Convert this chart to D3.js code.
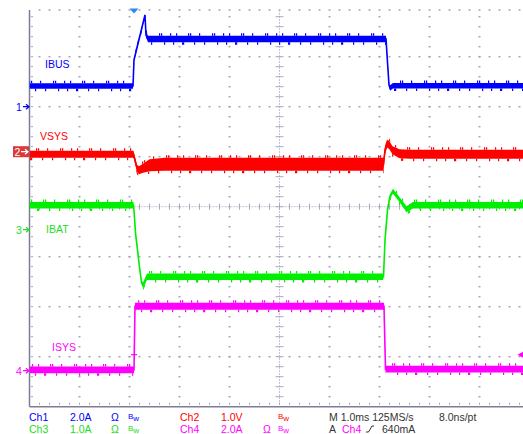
<!DOCTYPE html>
<html><head><meta charset="utf-8">
<script src="https://cdn.jsdelivr.net/npm/d3@7"></script>
<style>body{margin:0;background:#fff}svg{display:block}text{font-family:"Liberation Sans",Arial,sans-serif}</style>
</head><body><script>
// ---- data ----
const channelNames = ["Ch1","Ch2","Ch3","Ch4"];
const traceLabels = ["IBUS","VSYS","IBAT","ISYS"];
const voltsPerDiv = [2.0, 1.0, 1.0, 2.0];
const unitNames = ["A","V","A","A"];
const groundDiv = [2.0, 1.1, -0.46, -3.28];
const timePerDivMs = 1.0;
const triggerTimeMs = 2.09;
const triggerLevel = 0.64; // A on Ch4

const ibusTime = [0, 2.07, 2.09, 2.31, 2.33, 2.37, 7.13, 7.19, 7.21, 7.27, 10];
const ibusVal  = [0.83, 0.83, 1.87, 3.67, 2.87, 2.71, 2.71, 0.86, 0.75, 0.84, 0.84];
const ibusRip  = [0.22, 0.22, 0.10, 0.10, 0.20, 0.26, 0.26, 0.10, 0.22, 0.22, 0.22];

const vsysTime = [0, 2.08, 2.11, 2.15, 2.19, 2.27, 2.40, 2.70, 7.08, 7.11, 7.15, 7.19, 7.26, 7.40, 7.60, 10];
const vsysVal  = [-0.05, -0.05, -0.17, -0.33, -0.37, -0.33, -0.27, -0.25, -0.25, 0.03, 0.16, 0.14, 0.03, -0.04, -0.05, -0.05];
const vsysRip  = [0.14, 0.14, 0.14, 0.14, 0.16, 0.18, 0.24, 0.26, 0.26, 0.18, 0.16, 0.16, 0.16, 0.18, 0.18, 0.18];

const ibatTime = [0, 2.08, 2.09, 2.12, 2.16, 2.20, 2.24, 2.27, 2.35, 7.07, 7.08, 7.11, 7.16, 7.21, 7.27, 7.41, 7.54, 7.67, 10];
const ibatVal  = [0.49, 0.49, 0.39, -0.07, -0.41, -0.75, -1.05, -1.11, -0.94, -0.94, -0.94, -0.21, 0.39, 0.67, 0.77, 0.59, 0.41, 0.49, 0.49];
const ibatRip  = [0.13, 0.13, 0.05, 0.05, 0.05, 0.05, 0.08, 0.10, 0.13, 0.13, 0.05, 0.05, 0.05, 0.08, 0.10, 0.10, 0.12, 0.13, 0.13];

const isysTime = [0, 2.09, 2.11, 7.09, 7.12, 10];
const isysVal  = [0.03, 0.03, 2.58, 2.58, 0.06, 0.06];
const isysRip  = [0.27, 0.27, 0.28, 0.28, 0.27, 0.27];

const traceColors = ["#0000ff", "#ff0000", "#00ee00", "#ff00ff"];
const textColors  = ["#0000ff", "#ff0000", "#22dd22", "#ff00ff"];

// ---- setup ----
const W = 523, H = 434;
const svg = d3.select("body").append("svg").attr("width", W).attr("height", H);
const x = d3.scaleLinear().domain([0, 10 * timePerDivMs]).range([29.5, 529.5]);
const yDiv = d3.scaleLinear().domain([-4, 4]).range([406.7, 6.7]);
const TOP = 10, BOTTOM = yDiv(-4), LEFT = x(0), RIGHT = W;
const chY = (ch, v) => yDiv(groundDiv[ch] + v / voltsPerDiv[ch]);

const defs = svg.append("defs");
defs.append("clipPath").attr("id", "plotClip").append("rect")
  .attr("x", LEFT).attr("y", TOP).attr("width", RIGHT - LEFT).attr("height", BOTTOM - TOP);
const stripeOffsets = [[0, 2, 11, 17, 29, 31, 40], [5, 14, 23, 24, 35, 45]];
traceColors.forEach((c, i) => {
  ["a", "b"].forEach((k, j) => {
    const p = defs.append("pattern").attr("id", `sp${i}${k}`).attr("patternUnits", "userSpaceOnUse")
      .attr("width", 53).attr("height", 40).attr("x", i * 7);
    stripeOffsets[j].forEach(s => p.append("rect").attr("x", s).attr("y", 0).attr("width", 1.2).attr("height", 40).attr("fill", c));
  });
});

// ---- grid ----
const grid = svg.append("g");
const dotColor = "#a4a4bc";
const dots = [];
for (let i = 1; i <= 10; i++) {
  if (i === 5) continue;
  for (let yy = yDiv(4) + 10; yy < BOTTOM - 1; yy += 10) if (yy >= TOP) dots.push([x(i), yy]);
}
for (let j = -3; j <= 3; j++) {
  if (j === 0) continue;
  for (let xx = LEFT + 10; xx < RIGHT; xx += 10) dots.push([xx, yDiv(j)]);
}
for (let xx = LEFT + 10; xx < RIGHT; xx += 10) dots.push([xx, TOP]);
grid.selectAll("rect.d").data(dots).join("rect").attr("class", "d")
  .attr("x", d => d[0] - 1).attr("y", d => d[1] - 0.75).attr("width", 2).attr("height", 1.5).attr("fill", dotColor);

// center crosshair
const cy = yDiv(0), cx = x(5);
grid.append("line").attr("x1", LEFT).attr("x2", RIGHT).attr("y1", cy).attr("y2", cy)
  .attr("stroke", "#c4c4d4").attr("stroke-width", 1).attr("stroke-dasharray", "2 1");
grid.append("line").attr("x1", cx).attr("x2", cx).attr("y1", TOP).attr("y2", BOTTOM)
  .attr("stroke", "#c4c4d4").attr("stroke-width", 1).attr("stroke-dasharray", "2 1");
const hT = []; for (let xx = LEFT + 10; xx < RIGHT; xx += 10) hT.push(xx);
grid.selectAll("line.ht").data(hT).join("line").attr("class", "ht")
  .attr("x1", d => d).attr("x2", d => d).attr("y1", cy - 3).attr("y2", cy + 3)
  .attr("stroke", "#a8a8c0").attr("stroke-width", 1);
const vT = []; for (let yy = yDiv(4) + 10; yy < BOTTOM; yy += 10) if (yy > TOP) vT.push(yy);
grid.selectAll("line.vt").data(vT).join("line").attr("class", "vt")
  .attr("x1", cx - 4).attr("x2", cx + 4).attr("y1", d => d).attr("y2", d => d)
  .attr("stroke", "#a8a8c0").attr("stroke-width", 1);

// borders
grid.append("line").attr("x1", LEFT).attr("x2", LEFT).attr("y1", TOP).attr("y2", BOTTOM)
  .attr("stroke", "#7c7c98").attr("stroke-width", 1.5);
grid.append("line").attr("x1", LEFT).attr("x2", RIGHT).attr("y1", BOTTOM).attr("y2", BOTTOM)
  .attr("stroke", "#7c7c98").attr("stroke-width", 1.5);
grid.selectAll("line.bt").data(hT).join("line").attr("class", "bt")
  .attr("x1", d => d).attr("x2", d => d).attr("y1", BOTTOM - 4).attr("y2", BOTTOM - 2)
  .attr("stroke", "#a0a0b8").attr("stroke-width", 1);
grid.selectAll("line.lt").data(vT).join("line").attr("class", "lt")
  .attr("x1", LEFT + 1.5).attr("x2", LEFT + 3.5).attr("y1", d => d).attr("y2", d => d)
  .attr("stroke", "#a0a0b8").attr("stroke-width", 1);

// ---- traces ----
const traces = [
  [ibusTime, ibusVal, ibusRip],
  [vsysTime, vsysVal, vsysRip],
  [ibatTime, ibatVal, ibatRip],
  [isysTime, isysVal, isysRip]
];
const plot = svg.append("g").attr("clip-path", "url(#plotClip)");
const SPIKE = 2.5;
traces.forEach(([t, v, r], ch) => {
  const pts = t.map((ti, i) => ({ t: ti, v: v[i], r: r[i] }));
  const top = d => chY(ch, d.v + d.r / 2), bot = d => chY(ch, d.v - d.r / 2);
  const g = plot.append("g");
  g.append("path").datum(pts).attr("fill", `url(#sp${ch}a)`)
    .attr("d", d3.area().x(d => x(d.t)).y0(d => top(d) - SPIKE).y1(top));
  g.append("path").datum(pts).attr("fill", `url(#sp${ch}b)`)
    .attr("d", d3.area().x(d => x(d.t)).y0(bot).y1(d => bot(d) + SPIKE));
  g.append("path").datum(pts).attr("fill", traceColors[ch])
    .attr("d", d3.area().x(d => x(d.t)).y0(top).y1(bot));
  g.append("path").datum(pts).attr("fill", "none").attr("stroke", traceColors[ch]).attr("stroke-width", 1.6)
    .attr("d", d3.line().x(d => x(d.t)).y(d => chY(ch, d.v)));
});

// ---- trace labels ----
const labelPos = [[45, 68], [40, 140], [46, 233], [52, 351]];
traceLabels.forEach((l, i) => {
  svg.append("text").attr("x", labelPos[i][0]).attr("y", labelPos[i][1]).attr("fill", textColors[i])
    .attr("font-size", 10.5).text(l);
});

// ---- channel ground markers ----
channelNames.forEach((c, ch) => {
  const gy = chY(ch, 0);
  const g = svg.append("g");
  if (ch === 1) {
    g.append("rect").attr("x", 13).attr("y", gy - 5.5).attr("width", 16).attr("height", 11).attr("fill", "#dc3a3a");
    g.append("text").attr("x", 14.5).attr("y", gy + 4).attr("fill", "#fff").attr("font-size", 10.5).text(String(ch + 1));
    g.append("path").attr("d", `M21,${gy}H28M25,${gy - 2.5}L28,${gy}L25,${gy + 2.5}`).attr("stroke", "#fff").attr("fill", "none").attr("stroke-width", 1.2);
  } else {
    g.append("text").attr("x", 16).attr("y", gy + 4).attr("fill", textColors[ch]).attr("font-size", 10.5).text(String(ch + 1));
    g.append("path").attr("d", `M23,${gy}H29M26,${gy - 2.5}L29,${gy}L26,${gy + 2.5}`).attr("stroke", textColors[ch]).attr("fill", "none").attr("stroke-width", 1.2);
  }
});

// ---- trigger markers ----
const tx = x(triggerTimeMs);
svg.append("path").attr("d", `M${tx - 4.5},8.5L${tx + 4.5},8.5L${tx},13.5Z`).attr("fill", "#2f86f0");
const ty = chY(3, triggerLevel);
svg.append("line").attr("x1", tx - 3).attr("x2", tx + 3).attr("y1", ty).attr("y2", ty).attr("stroke", "#ff00ff").attr("stroke-width", 1.2);
svg.append("path").attr("d", `M517.5,${ty}L523,${ty - 3}L523,${ty + 3}Z`).attr("fill", "#ff00ff");

// ---- bottom readout ----
const row1 = 421, row2 = 433, fs = 10.5;
function txt(s, xx, yy, c, size) {
  return svg.append("text").attr("x", xx).attr("y", yy).attr("fill", c).attr("font-size", size || fs).text(s);
}
function bw(xx, yy, c) {
  const t = svg.append("text").attr("x", xx).attr("y", yy).attr("fill", c).attr("font-size", 8);
  t.append("tspan").attr("dy", -2).text("B");
  t.append("tspan").attr("dy", 2).text("w");
}
txt(channelNames[0], 29, row1, textColors[0]);
txt(voltsPerDiv[0].toFixed(1) + unitNames[0], 70, row1, textColors[0]);
txt("Ω", 111, row1, textColors[0]); bw(128, row1, textColors[0]);
txt(channelNames[1], 180, row1, textColors[1]);
txt(voltsPerDiv[1].toFixed(1) + unitNames[1], 221, row1, textColors[1]);
bw(278, row1, textColors[1]);
txt("M 1.0ms 125MS/s", 329, row1, "#333");
txt("8.0ns/pt", 439, row1, "#333");
txt(channelNames[2], 29, row2, textColors[2]);
txt(voltsPerDiv[2].toFixed(1) + unitNames[2], 70, row2, textColors[2]);
txt("Ω", 111, row2, textColors[2]); bw(128, row2, textColors[2]);
txt(channelNames[3], 180, row2, textColors[3]);
txt(voltsPerDiv[3].toFixed(1) + unitNames[3], 221, row2, textColors[3]);
txt("Ω", 263, row2, textColors[3]); bw(278, row2, textColors[3]);
txt("A", 329, row2, "#333");
txt(channelNames[3], 342, row2, textColors[3]);
svg.append("path").attr("d", `M366,${row2 - 1}H368.5L372,${row2 - 7}H374`).attr("stroke", "#333").attr("fill", "none").attr("stroke-width", 1);
txt(Math.round(triggerLevel * 1000) + "mA", 382, row2, "#333");
</script></body></html>
